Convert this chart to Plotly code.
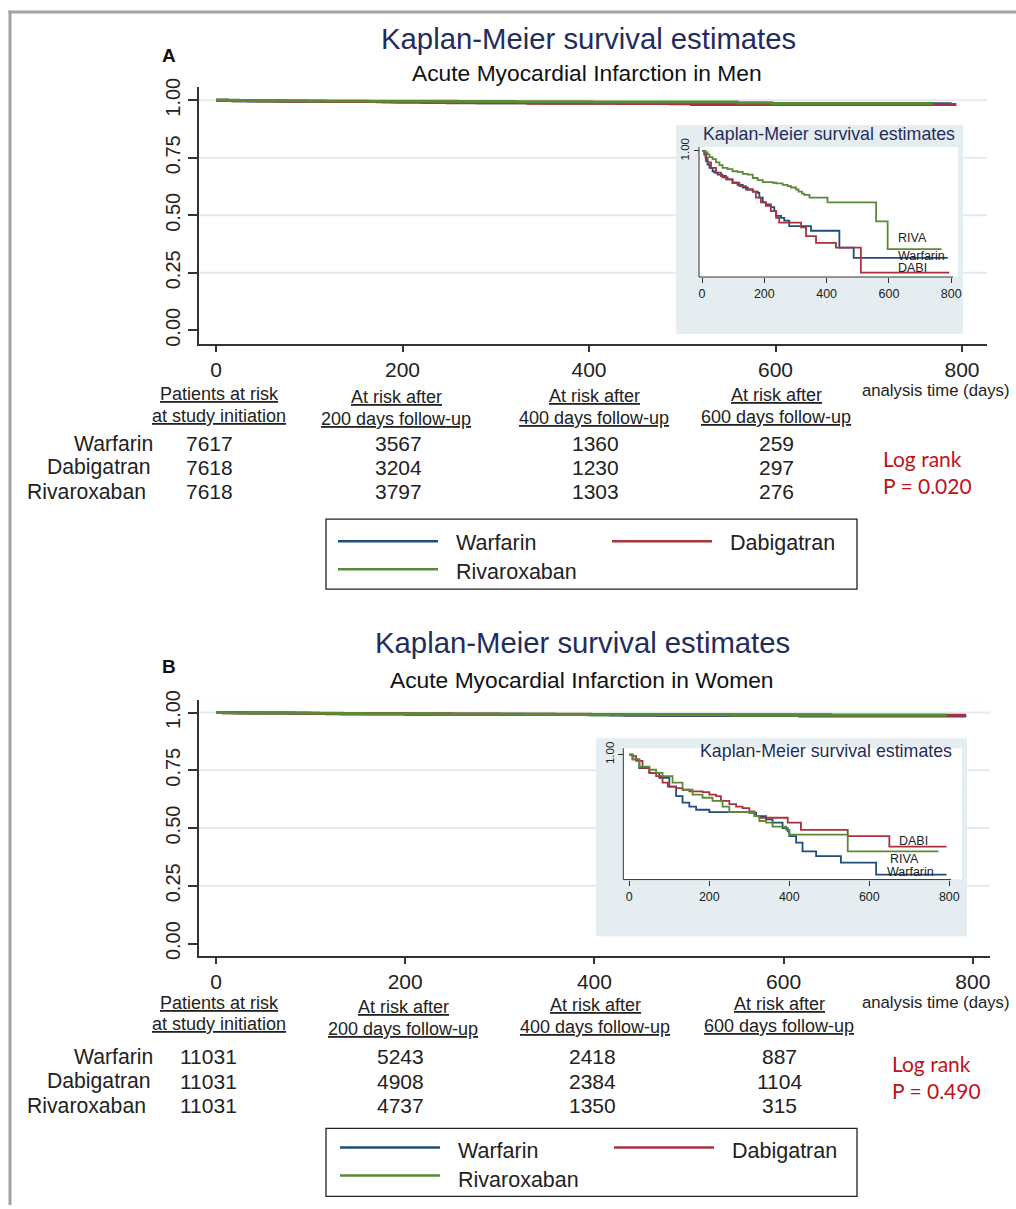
import plotly.graph_objects as go

W, H = 1016, 1209

# ---------------- data ----------------
drugs = ["Warfarin", "Dabigatran", "Rivaroxaban"]
x_ticks = [0, 200, 400, 600, 800]
y_ticks = [0.0, 0.25, 0.5, 0.75, 1.0]
y_tick_text = ["0.00", "0.25", "0.50", "0.75", "1.00"]
risk_headers_1 = ["Patients at risk", "At risk after", "At risk after", "At risk after"]
risk_headers_2 = ["at study initiation", "200 days follow-up", "400 days follow-up", "600 days follow-up"]

# Panel A - Acute Myocardial Infarction in Men (KM survival, days)
a_warfarin_t = [0, 7, 13, 18, 24, 34, 40, 50, 66, 82, 98, 114, 131, 147, 163, 179, 184, 195, 205, 221,
                232, 238, 254, 264, 280, 350, 441, 487, 789]
a_warfarin_s = [1.0, 0.9995, 0.9985, 0.9980, 0.9975, 0.9970, 0.9968, 0.9965, 0.9961, 0.9958, 0.9953, 0.9950,
                0.9946, 0.9943, 0.9940, 0.9938, 0.9931, 0.9924, 0.9921, 0.9917, 0.9911, 0.9904, 0.9901,
                0.9897, 0.9889, 0.9882, 0.9857, 0.9842, 0.9842]
a_dabigatran_t = [0, 11, 18, 29, 45, 61, 77, 98, 120, 141, 163, 173, 189, 205, 221, 238, 248, 318, 334, 366,
                  430, 510, 794]
a_dabigatran_s = [1.0, 0.9990, 0.9983, 0.9975, 0.9968, 0.9963, 0.9958, 0.9953, 0.9948, 0.9943, 0.9940, 0.9931,
                  0.9924, 0.9919, 0.9911, 0.9901, 0.9894, 0.9887, 0.9874, 0.9864, 0.9857, 0.9820, 0.9820]
a_rivaroxaban_t = [0, 11, 18, 24, 34, 45, 56, 66, 82, 98, 114, 131, 147, 163, 179, 195, 227, 238, 259, 275,
                   286, 302, 310, 321, 328, 345, 403, 559, 596, 769]
a_rivaroxaban_s = [1.0, 0.9998, 0.9995, 0.9991, 0.9988, 0.9983, 0.9979, 0.9975, 0.9973, 0.9970, 0.9969, 0.9966,
                   0.9965, 0.9960, 0.9957, 0.9954, 0.9953, 0.9952, 0.9950, 0.9948, 0.9946, 0.9943, 0.9940,
                   0.9937, 0.9935, 0.9931, 0.9924, 0.9896, 0.9855, 0.9855]
a_risk_warfarin = [7617, 3567, 1360, 259]
a_risk_dabigatran = [7618, 3204, 1230, 297]
a_risk_rivaroxaban = [7618, 3797, 1303, 276]
a_logrank_p = "0.020"

# Panel B - Acute Myocardial Infarction in Women
b_warfarin_t = [0, 8, 25, 50, 75, 100, 117, 133, 150, 167, 200, 300, 317, 342, 358, 383, 396, 400, 417, 433,
                467, 529, 617, 793]
b_warfarin_s = [1.0, 0.9994, 0.9983, 0.9977, 0.9971, 0.9960, 0.9948, 0.9940, 0.9935, 0.9931, 0.9928, 0.9927,
                0.9923, 0.9919, 0.9915, 0.9908, 0.9904, 0.9898, 0.9890, 0.9879, 0.9873, 0.9865, 0.9850, 0.9850]
b_dabigatran_t = [0, 8, 17, 33, 50, 67, 83, 96, 117, 133, 150, 183, 200, 217, 229, 250, 267, 283, 300, 313,
                  325, 396, 429, 546, 650, 793]
b_dabigatran_s = [1.0, 0.9998, 0.9992, 0.9983, 0.9977, 0.9973, 0.9965, 0.9960, 0.9958, 0.9956, 0.9954, 0.9953,
                  0.9950, 0.9948, 0.9942, 0.9938, 0.9935, 0.9933, 0.9929, 0.9923, 0.9921, 0.9915, 0.9906,
                  0.9898, 0.9885, 0.9885]
b_rivaroxaban_t = [0, 8, 25, 50, 67, 83, 108, 133, 158, 183, 208, 233, 250, 313, 325, 342, 358, 392, 400, 546, 773]
b_rivaroxaban_s = [1.0, 0.9994, 0.9985, 0.9981, 0.9977, 0.9973, 0.9965, 0.9956, 0.9950, 0.9946, 0.9942, 0.9935,
                   0.9928, 0.9923, 0.9917, 0.9915, 0.9910, 0.9906, 0.9900, 0.9879, 0.9879]
b_risk_warfarin = [11031, 5243, 2418, 887]
b_risk_dabigatran = [11031, 4908, 2384, 1104]
b_risk_rivaroxaban = [11031, 4737, 1350, 315]
b_logrank_p = "0.490"

# ---------------- style ----------------
FONT = "Liberation Sans, Arial, sans-serif"
RED_FONT = "Lato, 'Open Sans', sans-serif"
NAVY = "#1f2d5c"
COL = {"Warfarin": "#1f4e7a", "Dabigatran": "#a8323e", "Rivaroxaban": "#5a8a35"}
INSET_BG = "#e5edf0"
GRID = "#e3ebee"
AX = "#333333"

# vertical calibration of the page (rendered = OFF + SCALE * layout pixel)
OFF, SCALE = 9.1, 0.988


def fx(p):
    return p / W


def fy(p):
    return 1 - ((p - OFF) / SCALE) / H


panels = [
    dict(
        letter="A", title=(588, 38), sub=(587, 72), letter_y=55,
        subtitle="Acute Myocardial Infarction in Men",
        series=[(a_warfarin_t, a_warfarin_s), (a_dabigatran_t, a_dabigatran_s), (a_rivaroxaban_t, a_rivaroxaban_s)],
        risk=[a_risk_warfarin, a_risk_dabigatran, a_risk_rivaroxaban], p=a_logrank_p,
        main=dict(xa="xaxis", ya="yaxis", x="x", y="y", px=(199, 987), py=(86, 343), x0=216, xs=0.9325,
                  y1=99.3, y0=329.3),
        inset=dict(xa="xaxis2", ya="yaxis2", x="x2", y="y2", px=(676, 963), py=(124, 333), x0=702.0, xs=0.3115,
                   y1=150.0, ys=6761.0, yax=699, xax=276, white=(699, 958, 146, 276), xline_end=953,
                   title=(829, 133), labels=[("RIVA", 897, 237), ("Warfarin", 897, 255), ("DABI", 897, 267)]),
        hdr=[(219, 393, 415), (396, 396, 418), (594, 395, 417), (776, 394, 416)],
        axis_title=(935, 389),
        rows_y=[442, 466, 490], rows_x=[154, 152, 147], cols_x=[209, 398, 595, 776],
        logrank=(882, 457, 484),
        legend=dict(box=(326, 857, 518, 588), s=[(338, 438, 540), (612, 712, 540), (338, 438, 568)],
                    t=[(455, 542), (729, 542), (455, 571)]),
    ),
    dict(
        letter="B", title=(582, 641), sub=(582, 679), letter_y=665,
        subtitle="Acute Myocardial Infarction in Women",
        series=[(b_warfarin_t, b_warfarin_s), (b_dabigatran_t, b_dabigatran_s), (b_rivaroxaban_t, b_rivaroxaban_s)],
        risk=[b_risk_warfarin, b_risk_dabigatran, b_risk_rivaroxaban], p=b_logrank_p,
        main=dict(xa="xaxis3", ya="yaxis3", x="x3", y="y3", px=(199, 990), py=(699, 955), x0=216, xs=0.946,
                  y1=711.3, y0=942.3),
        inset=dict(xa="xaxis4", ya="yaxis4", x="x4", y="y4", px=(596, 967), py=(737, 935), x0=629.33, xs=0.4,
                   y1=753.33, ys=8000.0, yax=623.3, xax=878.3, white=(623, 962, 747, 878), xline_end=951,
                   title=(826, 750), labels=[("DABI", 898, 840), ("RIVA", 889, 858), ("Warfarin", 886, 871)]),
        hdr=[(219, 1002, 1023), (403, 1006, 1028), (595, 1004, 1026), (779, 1003, 1025)],
        axis_title=(935, 1001),
        rows_y=[1055, 1080, 1104], rows_x=[154, 152, 147], cols_x=[208, 400, 592, 779],
        logrank=(891, 1062, 1089),
        legend=dict(box=(326, 857, 1127, 1195), s=[(340, 440, 1146), (614, 714, 1146), (340, 440, 1174)],
                    t=[(457, 1150), (731, 1150), (457, 1179)]),
    ),
]

fig = go.Figure()
layout = dict(
    width=W, height=H, margin=dict(l=0, r=0, t=0, b=0),
    paper_bgcolor="white", plot_bgcolor=INSET_BG, showlegend=False,
    font=dict(family=FONT, color="#222222"),
)
shapes = []
annotations = []


def txt(x, y, s, size, color="#222222", xanchor="center", family=FONT):
    annotations.append(dict(x=fx(x), y=fy(y), xref="paper", yref="paper", text=s, showarrow=False,
                            xanchor=xanchor, yanchor="middle", borderpad=0,
                            font=dict(size=size, color=color, family=family)))


for P in panels:
    m = P["main"]
    ins = P["inset"]
    # ---- traces ----
    for name, (t, s) in zip(drugs, P["series"]):
        fig.add_trace(go.Scatter(x=t, y=s, mode="lines", line=dict(color=COL[name], width=3, shape="hv"),
                                 xaxis=m["x"], yaxis=m["y"], name=name))
        fig.add_trace(go.Scatter(x=t, y=s, mode="lines", line=dict(color=COL[name], width=1.8, shape="hv"),
                                 xaxis=ins["x"], yaxis=ins["y"], name=name))
    # ---- main axes ----
    ys = (m["y0"] - m["y1"])
    xr = [(m["px"][0] - m["x0"]) / m["xs"], (m["px"][1] - m["x0"]) / m["xs"]]
    yr = [(m["y0"] - m["py"][1]) / ys, (m["y0"] - m["py"][0]) / ys]
    layout[m["xa"]] = dict(domain=[fx(m["px"][0]), fx(m["px"][1])], range=xr, anchor=m["y"],
                           showline=True, linecolor=AX, linewidth=1.5, ticks="outside", ticklen=6,
                           tickwidth=1.5, tickcolor=AX, tickvals=x_ticks, showgrid=False, zeroline=False,
                           tickfont=dict(size=21, color="#222222"))
    layout[m["ya"]] = dict(domain=[fy(m["py"][1]), fy(m["py"][0])], range=yr, anchor=m["x"],
                           showline=True, linecolor=AX, linewidth=1.5, ticks="outside", ticklen=9,
                           tickwidth=1.5, tickcolor=AX, tickvals=y_ticks, ticktext=y_tick_text,
                           tickangle=-90, showgrid=False, zeroline=False,
                           tickfont=dict(size=20, color="#222222"))
    # white plot region of main panel
    shapes.append(dict(type="rect", xref="paper", yref="paper", x0=fx(m["px"][0]), x1=fx(m["px"][1]),
                       y0=fy(m["py"][1]), y1=fy(m["py"][0]), fillcolor="white", line=dict(width=0),
                       layer="below"))
    for g in y_ticks[1:]:
        shapes.append(dict(type="line", xref=m["x"], yref=m["y"], x0=xr[0], x1=xr[1], y0=g, y1=g,
                           line=dict(color=GRID, width=2), layer="below"))

    # ---- inset axes ----
    def ix(p, ins=ins):
        return (p - ins["x0"]) / ins["xs"]

    def iy(p, ins=ins):
        return 1 - (p - ins["y1"]) / ins["ys"]

    layout[ins["xa"]] = dict(domain=[fx(ins["px"][0]), fx(ins["px"][1])],
                             range=[ix(ins["px"][0]), ix(ins["px"][1])], anchor="free", position=fy(ins["xax"]),
                             showline=False, ticks="outside", ticklen=5, tickwidth=1, tickcolor=AX,
                             tickvals=x_ticks, showgrid=False, zeroline=False,
                             tickfont=dict(size=12.5, color="#222222"))
    layout[ins["ya"]] = dict(domain=[fy(ins["py"][1]), fy(ins["py"][0])],
                             range=[iy(ins["py"][1]), iy(ins["py"][0])], anchor="free", position=fx(ins["yax"]),
                             showline=False, ticks="outside", ticklen=5, tickwidth=1, tickcolor=AX,
                             tickvals=[1.0], ticktext=["1.00"], tickangle=-90, showgrid=False, zeroline=False,
                             tickfont=dict(size=11.5, color="#222222"))
    wx0, wx1, wy0, wy1 = ins["white"]
    shapes.append(dict(type="rect", xref=ins["x"], yref=ins["y"], x0=ix(wx0), x1=ix(wx1), y0=iy(wy1), y1=iy(wy0),
                       fillcolor="white", line=dict(width=0), layer="below"))
    shapes.append(dict(type="line", xref=ins["x"], yref=ins["y"], x0=ix(ins["yax"]), x1=ix(ins["yax"]),
                       y0=iy(ins["xax"]), y1=iy(wy0), line=dict(color=AX, width=1)))
    shapes.append(dict(type="line", xref=ins["x"], yref=ins["y"], x0=ix(ins["yax"]), x1=ix(ins["xline_end"]),
                       y0=iy(ins["xax"]), y1=iy(ins["xax"]), line=dict(color=AX, width=1)))
    txt(ins["title"][0], ins["title"][1], "Kaplan-Meier survival estimates", 17.8, NAVY)
    for lab, lx, ly in ins["labels"]:
        txt(lx, ly, lab, 12.5, "#222222", xanchor="left")

    # ---- titles ----
    txt(P["title"][0], P["title"][1], "Kaplan-Meier survival estimates", 29.3, NAVY)
    txt(P["sub"][0], P["sub"][1], P["subtitle"], 22.8, "#111111")
    txt(169, P["letter_y"], "<b>%s</b>" % P["letter"], 19, "#111111")

    # ---- at-risk table ----
    for (hx, hy1, hy2), h1, h2 in zip(P["hdr"], risk_headers_1, risk_headers_2):
        txt(hx, hy1, "<u>%s</u>" % h1, 18)
        txt(hx, hy2, "<u>%s</u>" % h2, 18)
    txt(P["axis_title"][0], P["axis_title"][1], "analysis time (days)", 16.7)
    for name, ry, rx, vals in zip(drugs, P["rows_y"], P["rows_x"], P["risk"]):
        txt(rx, ry, name, 21.2, xanchor="right")
        for cx, v in zip(P["cols_x"], vals):
            txt(cx, ry, str(v), 21)
    lx, ly1, ly2 = P["logrank"]
    txt(lx, ly1, "Log rank", 21, "#c0121b", xanchor="left", family=RED_FONT)
    txt(lx, ly2, "P = %s" % P["p"], 21, "#c0121b", xanchor="left", family=RED_FONT)

    # ---- legend ----
    L = P["legend"]
    bx0, bx1, by0, by1 = L["box"]
    shapes.append(dict(type="rect", xref="paper", yref="paper", x0=fx(bx0), x1=fx(bx1), y0=fy(by1), y1=fy(by0),
                       line=dict(color="#222222", width=1.3), fillcolor="rgba(0,0,0,0)"))
    for name, (sx0, sx1, sy), (tx, ty) in zip(drugs, L["s"], L["t"]):
        shapes.append(dict(type="line", xref="paper", yref="paper", x0=fx(sx0), x1=fx(sx1), y0=fy(sy), y1=fy(sy),
                           line=dict(color=COL[name], width=2.5)))
        txt(tx, ty, name, 21.5, xanchor="left")

# outer frame (left and top edges)
shapes.append(dict(type="line", xref="paper", yref="paper", x0=fx(10), x1=fx(10), y0=0, y1=fy(9.5),
                   line=dict(color="#a3a3a3", width=3)))
shapes.append(dict(type="line", xref="paper", yref="paper", x0=fx(8.5), x1=1, y0=fy(11), y1=fy(11),
                   line=dict(color="#a3a3a3", width=3)))

layout["shapes"] = shapes
layout["annotations"] = annotations
fig.update_layout(**layout)
fig.write_html("out.html")
